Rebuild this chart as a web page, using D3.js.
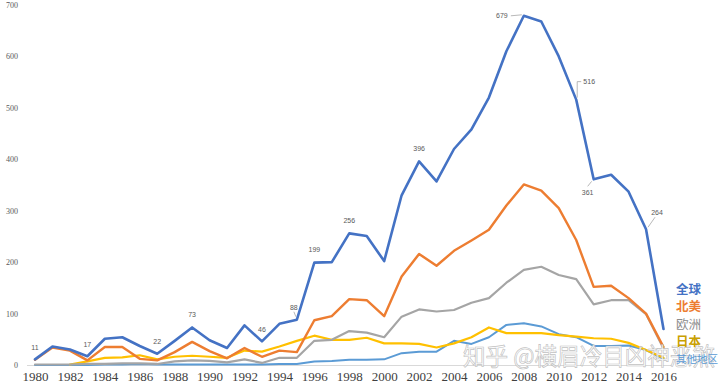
<!DOCTYPE html>
<html><head><meta charset="utf-8">
<script src="https://cdn.jsdelivr.net/npm/d3@7"></script>
<style>html,body{margin:0;padding:0;background:#fff;}svg{display:block;}</style>
</head><body>
<svg id="chart" width="720" height="385"></svg>
<script>
const years = [1980,1981,1982,1983,1984,1985,1986,1987,1988,1989,1990,1991,1992,1993,1994,1995,1996,1997,1998,1999,2000,2001,2002,2003,2004,2005,2006,2007,2008,2009,2010,2011,2012,2013,2014,2015,2016];
const globalVals = [11,36,30,17,51,54,37,22,47,73,48,33,77,46,80,88,199,200,256,251,202,330,396,357,420,458,520,610,679,668,600,516,361,370,337,264,70];
const northAmerica = [10,34,28,9,35,35,12,9,25,45,27,13,33,16,28,25,87,95,128,126,95,172,216,193,222,242,263,310,351,339,305,243,152,154,130,100,35];
const europe = [1,1,1,2,2,3,3,2,7,9,8,5,11,4,14,14,47,49,66,63,54,94,108,104,107,121,130,160,185,191,175,167,118,126,126,99,32];
const japan = [null,null,1,7,14,15,19,11,16,18,16,14,28,26,36,47,57,49,49,53,42,42,41,34,42,54,73,62,62,62,58,55,52,51,43,29,14];
const others = [0,0,0,0,1,1,2,1,1,1,1,1,1,1,2,2,7,8,10,10,11,23,26,26,47,41,54,78,81,75,60,54,37,37,38,29,12];
const seriesNames = ["其他地区","日本","欧洲","北美","全球"];
const yTicks = [0,100,200,300,400,500,600,700];
const xTickYears = [1980,1982,1984,1986,1988,1990,1992,1994,1996,1998,2000,2002,2004,2006,2008,2010,2012,2014,2016];
// labelled points of the global series: [year, value]
const labelled = [[1980,11],[1983,17],[1987,22],[1989,73],[1993,46],[1995,88],[1996,199],[1998,256],[2002,396],[2008,679],[2011,516],[2012,361],[2015,264]];
const watermark = "知乎 @横眉冷目凶神恶煞";

const colors = {"全球":"#4472C4","北美":"#ED7D31","欧洲":"#A5A5A5","日本":"#FFC000","其他地区":"#5B9BD5"};
const legendColors = {"全球":"#4472C4","北美":"#ED7D31","欧洲":"#8c8c8c","日本":"#C9A000","其他地区":"#5B9BD5"};
const widths = {"全球":2.6,"北美":2.4,"欧洲":2.2,"日本":2.2,"其他地区":2.0};
const valuesByName = {"全球":globalVals,"北美":northAmerica,"欧洲":europe,"日本":japan,"其他地区":others};

const svg = d3.select("#chart");
const x = d3.scaleLinear().domain([1980,2016]).range([35,663.5]);
const y = d3.scaleLinear().domain([0,700]).range([365,5]);

// baseline
svg.append("line").attr("x1",27).attr("x2",672).attr("y1",y(0)+0.5).attr("y2",y(0)+0.5)
  .attr("stroke","#d9d9d9").attr("stroke-width",1);

// y axis labels
const yAxis = d3.axisLeft(y).tickValues(yTicks).tickSize(0).tickPadding(0);
const gy = svg.append("g").attr("transform","translate(18,0)").call(yAxis);
gy.select(".domain").remove();
gy.attr("fill","#595959");
gy.selectAll("text").attr("font-family","'Liberation Serif',serif").attr("font-size",8).attr("fill","#595959");

// x axis labels
const xAxis = d3.axisBottom(x).tickValues(xTickYears).tickFormat(d3.format("d")).tickSize(0).tickPadding(0);
const gx = svg.append("g").attr("transform","translate(0,372)").call(xAxis);
gx.select(".domain").remove();
gx.selectAll("text").attr("font-family","'Liberation Serif',serif").attr("font-size",13).attr("fill","#404040");

// lines
const line = d3.line().defined(d => d[1] !== null).x(d => x(d[0])).y(d => y(d[1]));
seriesNames.forEach(name => {
  const pts = years.map((yr,i) => [yr, valuesByName[name][i]]);
  svg.append("path").datum(pts).attr("d",line).attr("fill","none")
    .attr("stroke",colors[name]).attr("stroke-width",widths[name])
    .attr("stroke-linejoin","round").attr("stroke-linecap","round");
});

// data labels (offsets are placement style only)
const offsets = {1980:[0,-12],1983:[0,-12],1987:[0,-12],1989:[0,-13],1993:[0,-12],1995:[-3,-12],1996:[0,-13],1998:[0,-13],2002:[0,-13],2008:[-22,0],2011:[13,-18],2012:[-6,13],2015:[11,-17]};
const leaders = {1995:[[-1,-3],[-3,-8]],2008:[[-2,-1],[-13,0]],2011:[[1,-2],[1,-18],[5,-18]],2012:[[-2,2],[-6,7]],2015:[[2,-2],[9,-12]]};
const lg = svg.append("g");
labelled.forEach(([yr,v]) => {
  const px = x(yr), py = y(v);
  const o = offsets[yr];
  if (leaders[yr]) {
    const pts = leaders[yr].map(p => [px+p[0], py+p[1]]);
    lg.append("path").attr("d", d3.line()(pts)).attr("fill","none").attr("stroke","#a6a6a6").attr("stroke-width",0.8);
  }
  lg.append("text").attr("x",px+o[0]).attr("y",py+o[1]).attr("dy","0.35em")
    .attr("text-anchor","middle").attr("font-family","'Liberation Sans',Arial,sans-serif")
    .attr("font-size",7).attr("fill","#595959").text(v);
});

// watermark
svg.append("text").attr("x",463).attr("y",365).attr("font-family","'Noto Sans CJK SC',sans-serif")
  .attr("font-size",24).attr("textLength",252).attr("lengthAdjust","spacingAndGlyphs")
  .attr("fill","#ffffff").attr("fill-opacity",0.85)
  .attr("stroke","#b0b0b0").attr("stroke-width",0.7).attr("stroke-opacity",0.8)
  .text(watermark);

// legend labels at line ends
const legendY = {"全球":290,"北美":307,"欧洲":325,"日本":342,"其他地区":359};
["全球","北美","欧洲","日本","其他地区"].forEach(name => {
  svg.append("text").attr("x",676).attr("y",legendY[name]).attr("dy","0.35em")
    .attr("font-family","'Noto Sans CJK SC',sans-serif")
    .attr("font-size", name === "其他地区" ? 10.5 : 12.5)
    .attr("font-weight", (name === "全球" || name === "北美" || name === "日本") ? "bold" : "normal")
    .attr("fill",legendColors[name]).text(name);
});
</script>
</body></html>
